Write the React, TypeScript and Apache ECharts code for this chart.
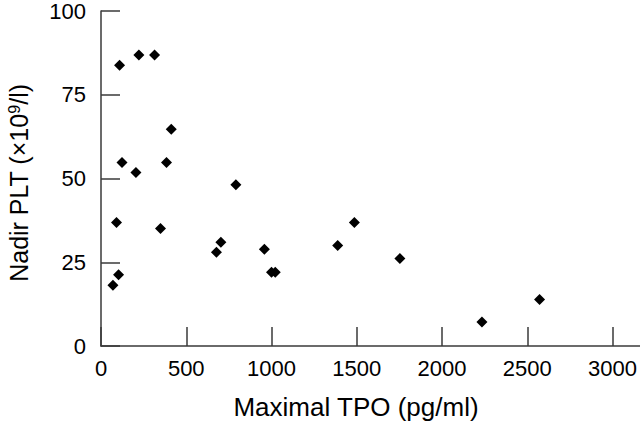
import React, { useEffect, useRef } from "react";
import * as echarts from "echarts";

const tpoValues = [70, 103, 91, 123, 109, 222, 314, 205, 349, 384, 412, 677, 703, 791, 958, 1000, 1022, 1388, 1486, 1753, 2234, 2572];
const pltValues = [18.1, 21.3, 36.9, 54.8, 83.8, 86.9, 86.9, 51.8, 35.1, 54.8, 64.7, 28.0, 31.0, 48.1, 28.9, 22.0, 22.0, 30.0, 36.9, 26.1, 7.2, 13.9];
const xTicks = [0, 500, 1000, 1500, 2000, 2500, 3000];
const yTicks = [0, 25, 50, 75, 100];
const xTitle = "Maximal TPO (pg/ml)";
const yTitleMain = "Nadir PLT (×10";
const yTitleSup = "9";
const yTitleEnd = "/l)";

export default function App() {
  const ref = useRef<HTMLDivElement>(null);
  useEffect(() => {
    if (!ref.current) return;
    const chart = echarts.init(ref.current, null, { renderer: "svg" });
    const font = "'Liberation Sans', Arial, Helvetica, sans-serif";
    const axisLine = { show: true, lineStyle: { color: "#3a3a3a", width: 1.5 } };
    chart.setOption({
      animation: false,
      backgroundColor: "#ffffff",
      grid: { left: 101, top: 8, right: 0, bottom: 77, containLabel: false },
      xAxis: {
        type: "value",
        min: 0,
        max: 3160,
        interval: 500,
        axisLine: { ...axisLine, onZero: false },
        axisTick: { show: true, inside: true, length: 19, lineStyle: { color: "#3a3a3a", width: 1.5 }, customValues: xTicks },
        axisLabel: { color: "#000", fontSize: 22, fontFamily: font, margin: 11, customValues: xTicks, formatter: (v: number) => String(v) },
        splitLine: { show: false },
      },
      yAxis: {
        type: "value",
        min: 0,
        max: 100,
        interval: 25,
        axisLine: { ...axisLine, onZero: false },
        axisTick: { show: true, inside: true, length: 19, lineStyle: { color: "#3a3a3a", width: 1.5 }, customValues: yTicks },
        axisLabel: { color: "#000", fontSize: 22, fontFamily: font, margin: 15, customValues: yTicks, formatter: (v: number) => String(v) },
        splitLine: { show: false },
      },
      graphic: [
        {
          type: "text",
          x: 356,
          y: 407,
          style: {
            text: xTitle,
            fill: "#000",
            font: `26px ${font}`,
            align: "center",
            verticalAlign: "middle",
          },
        },
        {
          type: "text",
          x: 19,
          y: 183,
          rotation: Math.PI / 2,
          style: {
            text: `{a|${yTitleMain}}{s|${yTitleSup}}{a|${yTitleEnd}}`,
            fill: "#000",
            fontFamily: font,
            fontSize: 25,
            align: "center",
            verticalAlign: "middle",
            rich: {
              a: { fontSize: 25, fontFamily: font, fill: "#000" },
              s: { fontSize: 16, fontFamily: font, fill: "#000", verticalAlign: "top", padding: [0, 0, 6, 0] },
            },
          },
        },
      ],
      series: [
        {
          type: "scatter",
          symbol: "diamond",
          symbolSize: 11,
          itemStyle: { color: "#000", opacity: 1 },
          data: tpoValues.map((x, i) => [x, pltValues[i]]),
        },
      ],
    });
    return () => chart.dispose();
  }, []);
  return <div ref={ref} style={{ position: "fixed", left: 0, top: 0, width: 640, height: 423 }} />;
}
